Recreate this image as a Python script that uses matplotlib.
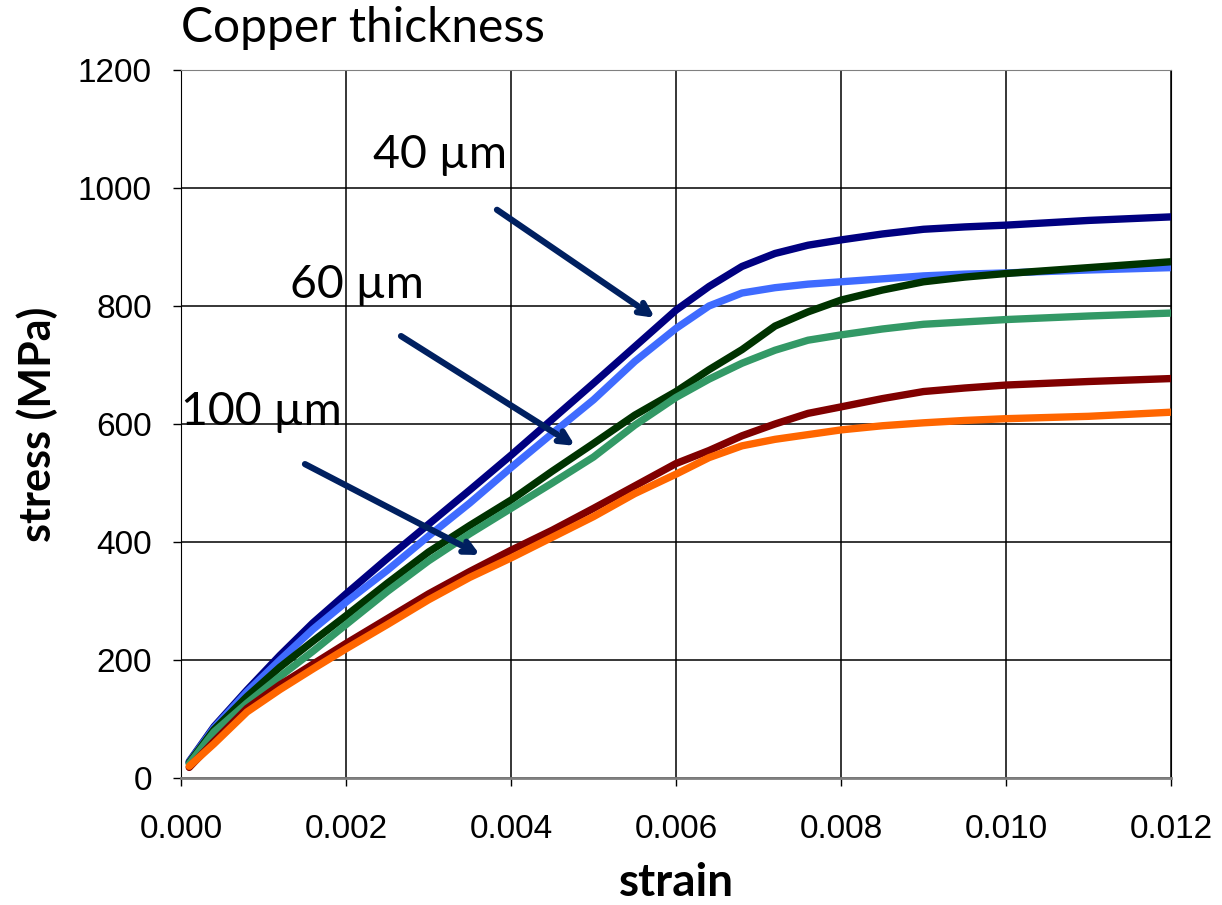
import matplotlib.pyplot as plt

# strain grid (shared by all curves)
strain = [0.0001, 0.0004, 0.0008, 0.0012, 0.0016, 0.002, 0.0025, 0.003, 0.0035,
          0.004, 0.0045, 0.005, 0.0055, 0.006, 0.0064, 0.0068, 0.0072, 0.0076,
          0.008, 0.0085, 0.009, 0.0095, 0.010, 0.011, 0.012]

# stress (MPa)
cu40_a = [28, 87, 149, 208, 263, 312, 372, 430, 488, 547, 608, 669, 731, 793,
          833, 867, 889, 903, 912, 922, 930, 934, 937, 945, 951]
cu40_b = [27, 85, 146, 200, 252, 298, 352, 410, 466, 526, 584, 641, 706, 762,
          800, 822, 831, 837, 841, 846, 851, 854, 856, 861, 865]
cu60_a = [26, 82, 138, 188, 232, 275, 330, 383, 428, 471, 520, 567, 615, 655,
          692, 726, 766, 790, 810, 827, 841, 849, 855, 865, 875]
cu60_b = [24, 78, 127, 172, 215, 260, 316, 368, 414, 457, 500, 544, 598, 645,
          676, 703, 725, 742, 751, 761, 769, 773, 777, 783, 788]
cu100_a = [18, 62, 118, 158, 193, 228, 270, 312, 350, 386, 420, 457, 495, 533,
           555, 580, 600, 618, 629, 643, 655, 661, 666, 672, 677]
cu100_b = [20, 58, 112, 150, 185, 219, 260, 302, 340, 373, 408, 443, 482, 515,
           543, 563, 574, 582, 590, 597, 602, 606, 609, 613, 620]

series = [cu40_a, cu40_b, cu60_a, cu60_b, cu100_a, cu100_b]
colors = ['#000080', '#3F6BFF', '#003300', '#339966', '#800000', '#FF6600']

labels = ['40 µm', '60 µm', '100 µm']
label_pos = [(0.00233, 1056), (0.00132, 836), (0.0000, 620)]
arrow_from = [(0.00383, 963), (0.002667, 749), (0.001503, 532)]
arrow_to = [(0.005745, 780), (0.004776, 563), (0.003624, 378)]

xticks = [0.000, 0.002, 0.004, 0.006, 0.008, 0.010, 0.012]
yticks = [0, 200, 400, 600, 800, 1000, 1200]

fig = plt.figure(figsize=(12.22, 9.05), dpi=100)
ax = fig.add_axes([0.1481, 0.1403, 0.8102, 0.7824])

for s, c in zip(series, colors):
    ax.plot(strain, s, color=c, lw=5.3, solid_joinstyle='round',
            solid_capstyle='round')

ax.set_xlim(0, 0.012)
ax.set_ylim(0, 1200)
ax.set_xticks(xticks)
ax.set_yticks(yticks)
ax.set_xticklabels(['%.3f' % t for t in xticks], family='Liberation Sans', fontsize=24)
ax.set_yticklabels([str(t) for t in yticks], family='Liberation Sans', fontsize=24)
ax.tick_params(axis='x', direction='out', length=6, width=1, pad=20)
ax.tick_params(axis='y', direction='out', length=6, width=1, pad=15)
ax.grid(True, color='black', lw=1.1)
ax.set_axisbelow(True)

ax.spines['left'].set_color('black')
ax.spines['right'].set_color('black')
ax.spines['top'].set_color('#808080')
ax.spines['bottom'].set_color('#808080')
ax.spines['bottom'].set_linewidth(2)

ax.set_xlabel('strain', family='Lato', fontweight='bold', fontsize=33, labelpad=12)
ax.set_ylabel('stress (MPa)', family='Lato', fontweight='bold', fontsize=31, labelpad=14)

for txt, (lx, ly) in zip(labels, label_pos):
    ax.text(lx, ly, txt, family='Lato', fontsize=33.5, ha='left', va='center')

for (x0, y0), (x1, y1) in zip(arrow_from, arrow_to):
    ax.annotate('', xy=(x1, y1), xytext=(x0, y0),
                arrowprops=dict(arrowstyle='->,head_length=0.8,head_width=0.4',
                                color='#002060', lw=4.5, shrinkA=0, shrinkB=0))

fig.text(0.1481, 0.969, 'Copper thickness', family='Lato', fontsize=34.5,
         ha='left', va='center')

fig.savefig('out.png', dpi=100)
